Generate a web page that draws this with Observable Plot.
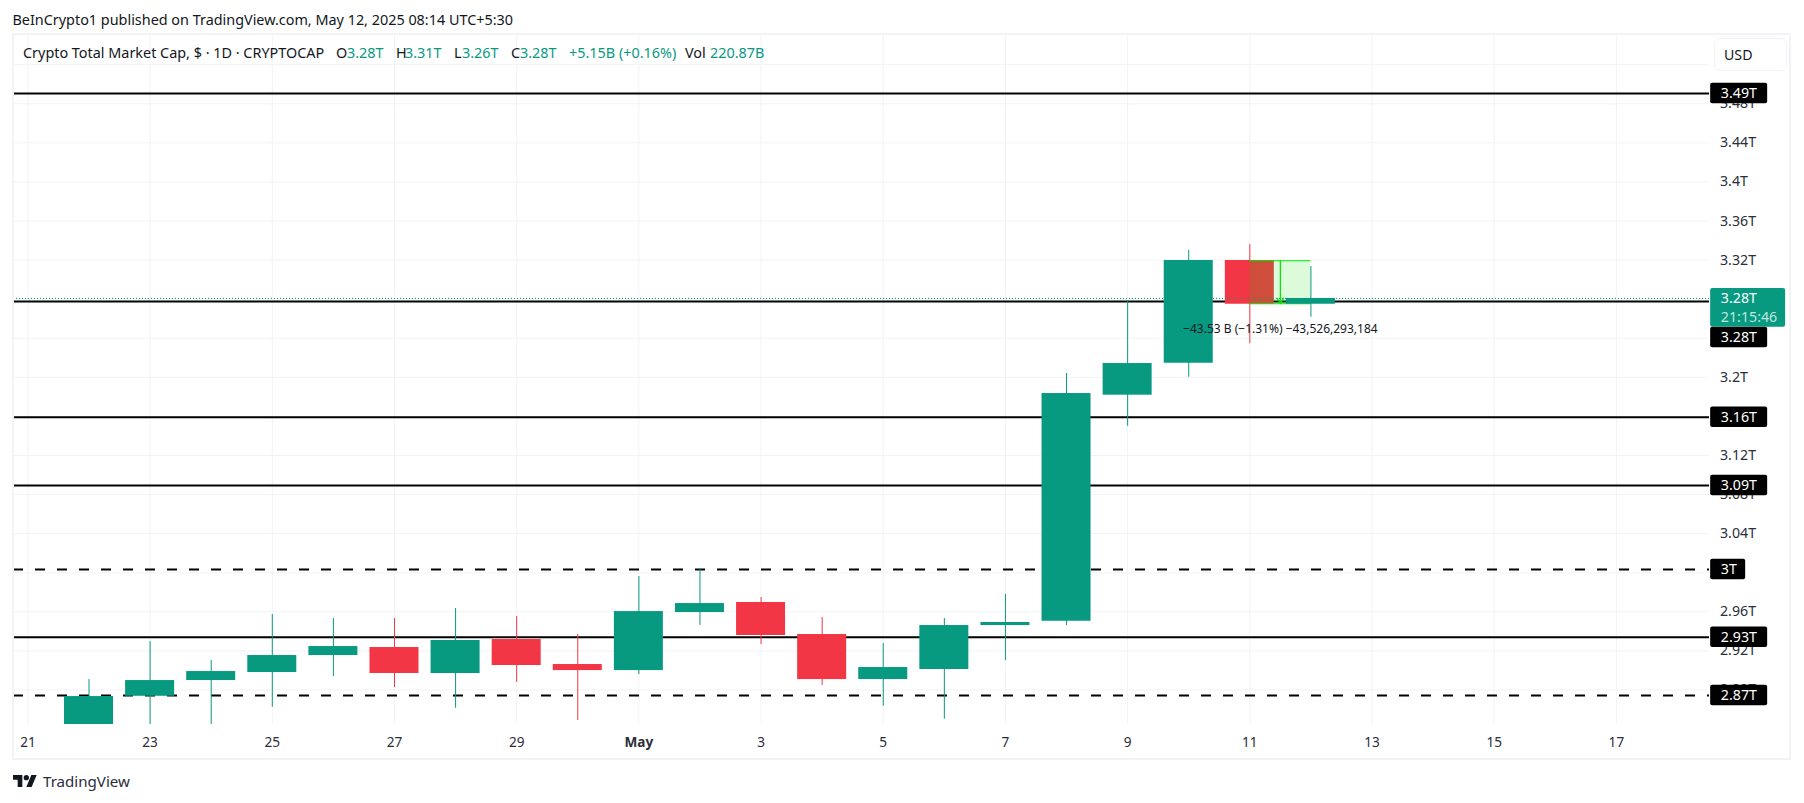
<!DOCTYPE html>
<html>
<head>
<meta charset="utf-8">
<script src="https://cdn.jsdelivr.net/npm/d3@7"></script>
<script src="https://cdn.jsdelivr.net/npm/@observablehq/plot@0.6"></script>
<style>
  html, body { margin: 0; padding: 0; background: #fff; overflow: hidden; }
  body { font-family: "Noto Sans", sans-serif; color: #131722; width: 1804px; height: 803px; position: relative; }
  #head { height: 34px; font-size: 14.4px; line-height: 39px; padding-left: 12.5px; white-space: nowrap; }
  #chart { height: 726px; }
  #chart svg { display: block; }
  #frame { position: absolute; left: 12px; top: 33px; width: 1779px; height: 727px; box-sizing: border-box; border: 2px solid #f2f3f6; pointer-events: none; }
  #legend { position: absolute; top: 43px; left: 0; height: 20px; font-size: 14.4px; line-height: 20px; white-space: nowrap; }
  #legend span { position: absolute; top: 0; }
  #usd { position: absolute; left: 1714px; top: 38px; width: 73px; height: 33px; box-sizing: border-box; border: 1px solid #f0f3fa; border-radius: 6px; font-size: 14.2px; line-height: 31px; padding-left: 9px; background: #fff; }
  #foot { height: 43px; position: relative; }
  #foot svg { position: absolute; left: 13px; top: 14px; }
  #foot div { position: absolute; left: 43px; top: 10px; font-size: 15.1px; line-height: 22px; color: #2a2e39; }
</style>
</head>
<body>
<div id="head"></div>
<div id="chart"></div>
<div id="frame"></div>
<div id="legend"></div>
<div id="usd">USD</div>
<div id="foot">
  <svg width="24" height="14" viewBox="0 4 36 18"><path fill="#131722" d="M14 22H7V11H0V4h14v18zM28 22h-8l7.5-18h8L28 22z"/><circle fill="#131722" cx="20" cy="8" r="4"/></svg>
  <div>TradingView</div>
</div>
<script>
// ---- data ----
const publishedLine = "BeInCrypto1 published on TradingView.com, May 12, 2025 08:14 UTC+5:30";
const legendNames = ["Crypto Total Market Cap, $ · 1D · CRYPTOCAP", "O", "H", "L", "C", "Vol"];
const legendValues = ["3.28T", "3.31T", "3.26T", "3.28T", "+5.15B (+0.16%)", "220.87B"];

const candleDates = ["2025-04-22","2025-04-23","2025-04-24","2025-04-25","2025-04-26","2025-04-27","2025-04-28","2025-04-29","2025-04-30","2025-05-01","2025-05-02","2025-05-03","2025-05-04","2025-05-05","2025-05-06","2025-05-07","2025-05-08","2025-05-09","2025-05-10","2025-05-11","2025-05-12"];
const opens  = [2.84,2.8735,2.8896,2.8978,2.9152,2.9234,2.8968,2.9316,2.9060,2.8998,2.9592,2.9695,2.9367,2.8906,2.9009,2.9459,2.9503,3.1817,3.2144,3.3196,3.2748];
const closes = [2.8732,2.8896,2.8988,2.9152,2.9244,2.8968,2.9306,2.9050,2.8998,2.9602,2.9684,2.9357,2.8906,2.9029,2.9459,2.9490,3.1834,3.2141,3.3196,3.2748,3.2807];
const highs  = [2.8906,2.9295,2.9101,2.9572,2.9531,2.9531,2.9633,2.9551,2.9367,2.9961,3.0043,2.9746,2.9541,2.9275,2.9531,2.9776,3.2039,3.2786,3.3298,3.3360,3.3134];
const lows   = [2.83,2.835,2.84,2.8623,2.8937,2.8824,2.8612,2.8876,2.8487,2.8957,2.9459,2.9265,2.8845,2.8633,2.8500,2.9101,2.9459,3.1499,3.2001,3.2343,3.2615];

const priceTicks = [2.88,2.92,2.96,3.00,3.04,3.08,3.12,3.16,3.20,3.24,3.28,3.32,3.36,3.40,3.44,3.48];
const priceGrid = [...priceTicks, 3.52];
const dateTicks = ["2025-04-21","2025-04-23","2025-04-25","2025-04-27","2025-04-29","2025-05-03","2025-05-05","2025-05-07","2025-05-09","2025-05-11","2025-05-13","2025-05-15","2025-05-17"];
const monthTick = ["2025-05-01"];

const solidLevels = [3.4905,3.2776,3.1592,3.0892,2.9339];
const dashedLevels = [3.0032,2.8743];
const levelLabels = ["3.49T","3.28T","3.16T","3.09T","3T","2.93T","2.87T"];
const levelLabelY = [3.4905,3.2407,3.1592,3.0892,3.0032,2.9339,2.8743];

const lastPrice = 3.2807;
const lastLabel = ["3.28T","21:15:46"];
const lastLabelY = [3.2807,3.2615];

const rangeStart = "2025-05-11", rangeEnd = "2025-05-12", rangeMid = "2025-05-11T12:00:00Z";
const rangeTop = 3.3193, rangeBottom = 3.2753;
const rangeText = "−43.53 B (−1.31%) −43,526,293,184";
const rangeTextY = 3.2489;

// ---- helpers ----
const GREEN = "#089981", RED = "#F23645", LIME = "#00e600", GRID = "#f2f3f6", INK = "#131722";
const FONT = '"Noto Sans", sans-serif';
const D = s => new Date(s);
const dayOffset = (iso, days) => new Date(+new Date(iso) + days * 864e5);
const halfBody = 0.401;

document.getElementById("head").textContent = publishedLine;
const legendSpots = [23, 336, 396, 454, 511, 685];
const valueSpots = [347, 405, 462, 520, 569, 710];
const legend = document.getElementById("legend");
legendSpots.forEach((left, i) => { const s = document.createElement("span"); s.style.left = left+"px"; s.textContent = legendNames[i]; legend.append(s); });
valueSpots.forEach((left, i) => { const s = document.createElement("span"); s.style.left = left+"px"; s.style.color = GREEN; s.textContent = legendValues[i]; legend.append(s); });

const candles = candleDates.map((date, i) => ({
  date: D(date), open: opens[i], close: closes[i], high: highs[i], low: lows[i],
  left: dayOffset(date, -halfBody), right: dayOffset(date, halfBody),
  color: closes[i] >= opens[i] ? GREEN : RED
}));
const earlier = candles.slice(0, -1), latest = candles.slice(-1);

const boxLeft = dayOffset("2025-05-01", 17.543), textLeft = dayOffset("2025-05-01", 17.71);
const boxRightLong = dayOffset("2025-05-01", 18.476), boxRightShort = dayOffset("2025-05-01", 18.116), boxRightLast = dayOffset("2025-05-01", 18.77);
const boxHalf = 0.0105;
const labels = levelLabels.map((t, i) => ({t, y: levelLabelY[i], right: t.length < 3 ? boxRightShort : boxRightLong}));

const candleMarks = data => [
  Plot.ruleX(data, {x: "date", y1: "low", y2: "high", stroke: "color", strokeWidth: 1, clip: "frame"}),
  Plot.rect(data, {x1: "left", x2: "right", y1: "open", y2: "close", fill: "color", clip: "frame"})
];

const chart = Plot.plot({
  width: 1804, height: 726,
  marginTop: 1, marginBottom: 36, marginLeft: 13, marginRight: 95,
  style: {fontFamily: FONT, background: "#fff", color: INK},
  x: {type: "utc", domain: [dayOffset("2025-05-01", -10.236), dayOffset("2025-05-01", 17.524)]},
  y: {domain: [2.8446, 3.5499]},
  color: {type: "identity"},
  marks: [
    Plot.gridX([...dateTicks, ...monthTick].map(D), {stroke: GRID, strokeOpacity: 1}),
    Plot.gridY(priceGrid, {stroke: GRID, strokeOpacity: 1}),
    Plot.axisY({anchor: "right", ticks: priceTicks, tickSize: 0, tickPadding: 10.5, fontSize: 14.2, fill: "#2a2e39",
      tickFormat: d => +d.toFixed(2) + "T", label: null}),
    Plot.axisX({ticks: dateTicks.map(D), tickSize: 0, tickPadding: 13, fontSize: 13.6, fill: "#2a2e39",
      tickFormat: d => d.getUTCDate(), label: null}),
    Plot.axisX({ticks: monthTick.map(D), tickSize: 0, tickPadding: 13, fontSize: 13.6, fontWeight: "bold", fill: "#2a2e39",
      tickFormat: () => "May", label: null}),
    Plot.ruleY(solidLevels, {stroke: "#000", strokeWidth: 2}),
    Plot.ruleY(dashedLevels, {stroke: "#000", strokeWidth: 2, strokeDasharray: "10 12"}),
    ...candleMarks(earlier),
    Plot.ruleY([lastPrice], {stroke: GREEN, strokeWidth: 1, strokeDasharray: "1 2"}),
    Plot.rect([0], {x1: D(rangeStart), x2: D(rangeEnd), y1: rangeBottom, y2: rangeTop, fill: LIME, fillOpacity: 0.14}),
    Plot.ruleY([rangeTop, rangeBottom], {x1: D(rangeStart), x2: D(rangeEnd), stroke: LIME, strokeWidth: 1.2}),
    Plot.arrow([0], {x1: D(rangeMid), x2: D(rangeMid), y1: rangeTop, y2: rangeBottom, stroke: LIME, strokeWidth: 1.2, bend: 0, headLength: 8}),
    ...candleMarks(latest),
    Plot.text([rangeText], {x: D(rangeMid), y: rangeTextY, text: d => d, fill: INK, fontSize: 12, textAnchor: "middle"}),
    Plot.rect(labels, {x1: boxLeft, x2: "right", y1: d => d.y - boxHalf, y2: d => d.y + boxHalf, fill: "#000", rx: 2}),
    Plot.text(labels, {x: textLeft, y: "y", text: "t", fill: "#fff", fontSize: 14.2, textAnchor: "start"}),
    Plot.rect([0], {x1: boxLeft, x2: boxRightLast, y1: 3.2513, y2: 3.2910, fill: GREEN, rx: 2}),
    Plot.text([lastLabel[0]], {x: textLeft, y: lastLabelY[0], text: d => d, fill: "#fff", fontSize: 14.2, textAnchor: "start"}),
    Plot.text([lastLabel[1]], {x: textLeft, y: lastLabelY[1], text: d => d, fill: "#bfe6dd", fontSize: 14.2, textAnchor: "start"})
  ]
});
document.getElementById("chart").append(chart);
</script>
</body>
</html>
